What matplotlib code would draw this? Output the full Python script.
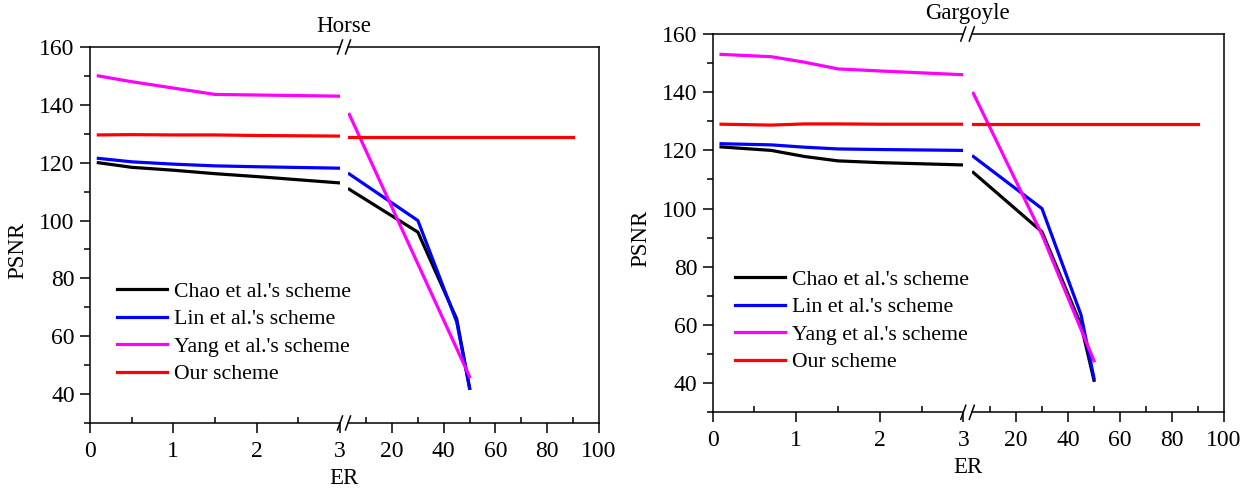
import numpy as np
import matplotlib.pyplot as plt
from matplotlib.lines import Line2D
from matplotlib.ticker import MultipleLocator

plt.rcParams['font.family'] = ['Liberation Serif', 'DejaVu Serif']

# Horse: left segment (ER 0..3) and right segment (ER 3..100)
h_xl = [0.1, 0.5, 1, 1.5, 2, 3]
h_chao_l = [120.0, 118.4, 117.4, 116.2, 115.2, 113.0]
h_lin_l = [121.5, 120.3, 119.5, 118.9, 118.6, 118.1]
h_yang_l = [150.0, 148.0, 145.8, 143.6, 143.4, 143.0]
h_our_l = [129.6, 129.7, 129.6, 129.6, 129.4, 129.2]
h_xr = [3.5, 30, 45, 50]
h_chao_r = [110.8, 96.0, 66.0, 42.0]
h_lin_r = [116.1, 100.0, 65.0, 42.0]
h_yang_xr = [3.5, 50]
h_yang_r = [136.7, 46.0]
h_our_xr = [3.5, 90]
h_our_r = [129.0, 129.0]

# Gargoyle
g_xl = [0.1, 0.7, 1.1, 1.5, 2, 3]
g_chao_l = [121.2, 120.0, 117.9, 116.4, 115.8, 115.0]
g_lin_l = [122.3, 121.9, 121.1, 120.5, 120.3, 120.0]
g_yang_l = [153.0, 152.2, 150.3, 148.0, 147.3, 146.0]
g_our_l = [129.0, 128.7, 129.1, 129.1, 129.0, 129.0]
g_xr = [3.6, 30, 45, 50]
g_chao_r = [112.4, 92.0, 60.0, 41.0]
g_lin_r = [117.9, 100.0, 63.5, 41.7]
g_yang_xr = [3.6, 30, 50]
g_yang_r = [139.6, 91.0, 47.7]
g_our_xr = [3.6, 90]
g_our_r = [129.0, 129.0]

labels = ["Chao et al.'s scheme", "Lin et al.'s scheme", "Yang et al.'s scheme", "Our scheme"]
colors = ['#000000', '#0000ff', '#ff00ff', '#ff0000']

W, H = 1255, 490
fig = plt.figure(figsize=(W / 100, H / 100), dpi=100)
lw = 2.3


def style(ax):
    for s in ax.spines.values():
        s.set_linewidth(1.1)
    ax.tick_params(axis='x', which='major', direction='out', length=7, width=1.1,
                   labelsize=17, pad=6)
    ax.tick_params(axis='x', which='minor', direction='in', length=4, width=1.1)
    ax.tick_params(axis='y', which='major', direction='out', length=7, width=1.1,
                   labelsize=17, pad=4)
    ax.tick_params(axis='y', which='minor', direction='out', length=4, width=1.1)
    ax.set_ylim(30, 160)
    ax.yaxis.set_major_locator(MultipleLocator(20))
    ax.yaxis.set_minor_locator(MultipleLocator(10))


def panel(x0, x1, x2, x3, ytop, ybot, title, xl, left_series, right_series, legpos):
    b = 1 - ybot / H
    h = (ybot - ytop) / H
    axL = fig.add_axes([x0 / W, b, (x1 - x0) / W, h])
    axR = fig.add_axes([x2 / W, b, (x3 - x2) / W, h])
    axR.patch.set_alpha(0)
    for ax in (axL, axR):
        style(ax)
    axL.set_xlim(0, 3)
    axL.set_xticks([0, 1, 2, 3])
    axL.xaxis.set_minor_locator(MultipleLocator(0.5))
    axL.spines['right'].set_visible(False)
    axR.set_xlim(3, 100)
    axR.set_xticks([20, 40, 60, 80, 100])
    axR.set_xticks([10, 30, 50, 70, 90], minor=True)
    axR.spines['left'].set_visible(False)
    axR.tick_params(axis='y', which='both', left=False, labelleft=False)

    for ys, c, lab in zip(left_series, colors, labels):
        axL.plot(xl, ys, color=c, lw=lw, label=lab)
    for (xs, ys), c in zip(right_series, colors):
        axR.plot(xs, ys, color=c, lw=lw)

    # break marks
    for xp in (x1, x2):
        for yp in (ytop, ybot):
            fig.add_artist(Line2D([(xp - 2.5) / W, (xp + 2.5) / W],
                                  [1 - (yp + 7) / H, 1 - (yp - 7) / H],
                                  transform=fig.transFigure, color='black', lw=1.1))

    xm = (x1 + x2) / 2
    fig.text(xm / W, 1 - (ytop - 20) / H, title, ha='center', va='center', fontsize=16.5)
    fig.text(xm / W, 1 - (ybot + 55) / H, 'ER', ha='center', va='center', fontsize=16.5)
    fig.text((x0 - 72) / W, 1 - ((ytop + ybot) / 2 + 15) / H, 'PSNR', ha='center',
             va='center', rotation='vertical', fontsize=16.5)

    leg = axL.legend(loc='center left', bbox_to_anchor=legpos, bbox_transform=fig.transFigure,
                     frameon=False, fontsize=15.7, handlelength=2.3, handletextpad=0.3,
                     labelspacing=0.33, borderpad=0, borderaxespad=0)
    leg.set_zorder(10)


panel(90, 340, 348, 599, 47, 423, 'Horse', h_xl,
      [h_chao_l, h_lin_l, h_yang_l, h_our_l],
      [(h_xr, h_chao_r), (h_xr, h_lin_r), (h_yang_xr, h_yang_r), (h_our_xr, h_our_r)],
      (117 / W, 1 - 333 / H))

panel(712.7, 963.3, 971.8, 1224, 34, 412.3, 'Gargoyle', g_xl,
      [g_chao_l, g_lin_l, g_yang_l, g_our_l],
      [(g_xr, g_chao_r), (g_xr, g_lin_r), (g_yang_xr, g_yang_r), (g_our_xr, g_our_r)],
      (735 / W, 1 - 321 / H))

plt.savefig('out.png')
